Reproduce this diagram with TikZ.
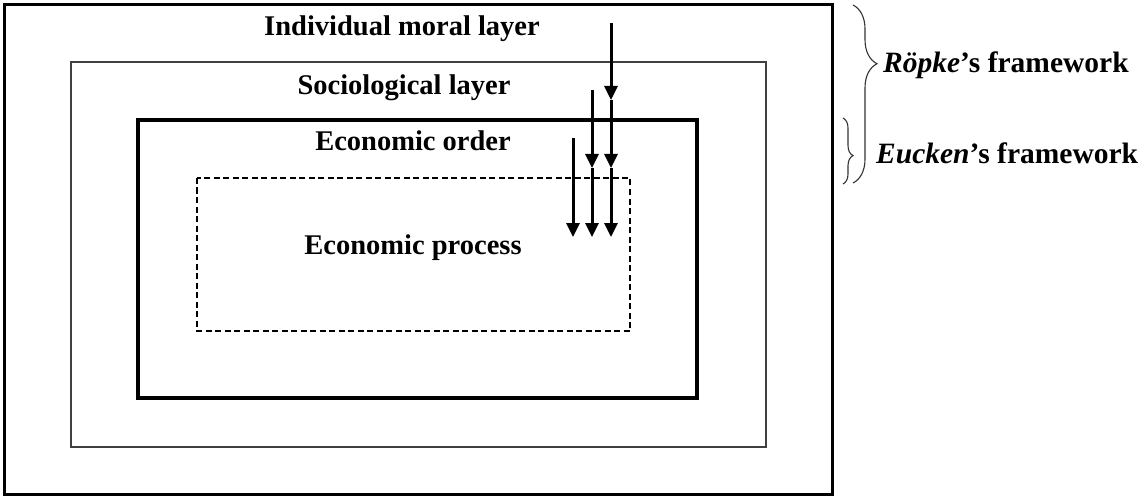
\documentclass[tikz,border=0pt]{standalone}
\usepackage{fontspec}
\setmainfont{Liberation Serif}
\usetikzlibrary{arrows.meta,decorations.pathreplacing}
\tikzset{
  thickbox/.style={draw=black,line width=3.6pt},
  thinbox/.style={draw=black!75,line width=1.5pt},
  dashbox/.style={draw=black,line width=2.2pt,dash pattern=on 6pt off 3.5pt},
  lbl/.style={font=\fontsize{28.5}{32}\selectfont\bfseries,anchor=base,inner sep=0pt},
  rlbl/.style={font=\fontsize{29.5}{34}\selectfont\bfseries,anchor=base west,inner sep=0pt},
  flow/.style={line width=3pt,-{Triangle[length=14pt,width=13pt]}},
  brc/.style={draw=black!80,line width=1.1pt,decorate},
}
\begin{document}
\begin{tikzpicture}[x=1pt,y=-1pt]
\path[use as bounding box] (0,0) rectangle (1142,497);
% boxes
\draw[thickbox] (4.5,4.5) rectangle (832.5,494.5);
\draw[thinbox] (71,62) rectangle (766,447);
\draw[thickbox] (138,120) rectangle (697,398);
\draw[dashbox] (197,178) rectangle (630,331);
% labels
\node[lbl] (moral) at (402,36) {Individual moral layer};
\node[lbl] (socio) at (404,95) {Sociological layer};
\node[lbl] (order) at (413,151) {Economic order};
\node[lbl] (proc) at (413,254) {Economic process};
% arrows
\coordinate (a1) at (611,23);
\coordinate (a2) at (611,100);
\coordinate (a3) at (611,168);
\coordinate (a4) at (611,237);
\coordinate (b1) at (592,90);
\coordinate (b2) at (592,168);
\coordinate (b3) at (592,237);
\coordinate (c1) at (573,138);
\coordinate (c2) at (573,237);
\draw[flow] (a1) -- (a2);
\draw[flow] (a2) -- (a3);
\draw[flow] (a3) -- (a4);
\draw[flow] (b1) -- (b2);
\draw[flow] (b2) -- (b3);
\draw[flow] (c1) -- (c2);
% braces
\coordinate (r1) at (853,5);
\coordinate (r2) at (853,183);
\coordinate (e1) at (843,118);
\coordinate (e2) at (843,184);
\draw[brc,decoration={brace,amplitude=24pt,aspect=0.33}] (r1) -- (r2);
\draw[brc,decoration={brace,amplitude=10pt,aspect=0.57}] (e1) -- (e2);
\node[rlbl] (ropke) at (883,73) {\textit{Röpke}’s framework};
\node[rlbl] (eucken) at (876,164) {\textit{Eucken}’s framework};
\end{tikzpicture}
\end{document}
